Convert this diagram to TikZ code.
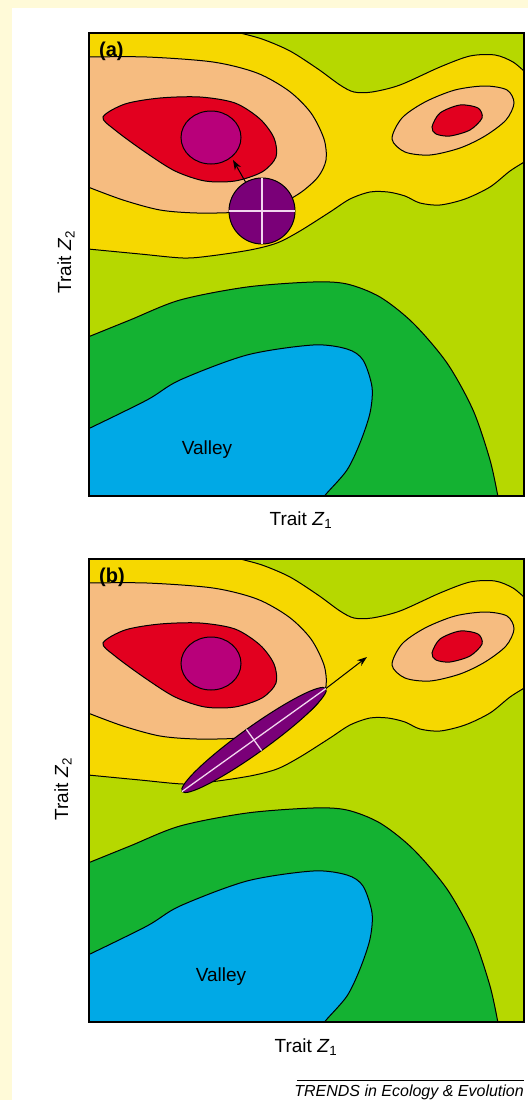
\documentclass[tikz,border=0pt]{standalone}
\usepackage{fontspec}
\setmainfont{Liberation Sans}
\usetikzlibrary{arrows.meta,shapes.geometric}
\definecolor{cream}{HTML}{FFFAD8}
\definecolor{lgreen}{HTML}{B6D800}
\definecolor{yel}{HTML}{F6D800}
\definecolor{peach}{HTML}{F6BC80}
\definecolor{redpk}{HTML}{E2001F}
\definecolor{mag}{HTML}{B8007A}
\definecolor{purp}{HTML}{7A0078}
\definecolor{dgreen}{HTML}{14B232}
\definecolor{bluev}{HTML}{00A9E6}
\definecolor{crossc}{HTML}{F2D6EE}
\tikzset{
  contour/.style={draw=black, line width=1pt},
  frame/.style={draw=black, line width=1.6pt},
  marker/.style={draw=black, line width=1pt, fill=purp, inner sep=0pt, outer sep=0pt},
  crossline/.style={draw=crossc, line width=1.3pt},
  arr/.style={draw=black, line width=1pt, -{Stealth[length=10pt,width=7pt]}},
  lbl/.style={font=\fontsize{19}{22}\selectfont, inner sep=0pt},
  panlbl/.style={font=\fontsize{20}{24}\selectfont\bfseries, inner sep=0pt, anchor=west},
}
\newcommand\drawLandscape{%
  \begin{scope}
    \clip (89,33) rectangle (524,496);
    \fill[lgreen] (84,28) rectangle (530,500);
    % yellow band
    \filldraw[contour, fill=yel] (84,28) -- (234,28) -- plot[smooth] coordinates {(236,32) (262,39) (290,51) (318,69) (340,85) (354,92) (372,92) (400,85) (440,67) (470,56) (495,55) (513,62) (526,73)} -- (530,73) -- (530,161)
      -- plot[smooth] coordinates {(526,161) (510,171) (490,187) (465,199) (440,205) (420,203) (405,196) (388,192) (370,192) (350,199) (330,212) (300,231) (277,243) (250,250) (210,256) (183,258) (140,254) (88,249)} -- (84,249) -- cycle;
    % big peach
    \filldraw[contour, fill=peach] (84,57) -- plot[smooth] coordinates {(88,57) (147,57) (213,62) (257,73) (289,91) (311,113) (324,139) (326,160) (318,177) (300,193) (275,206) (240,212) (197,213) (160,210) (123,200) (88,187)} -- (84,187) -- cycle;
    % big red
    \filldraw[contour, fill=redpk] plot[smooth cycle] coordinates {(103,117) (125,104) (160,98) (200,97) (235,103) (260,119) (274,138) (276,157) (262,172) (235,181) (205,181) (175,171) (145,152) (115,130)};
    % magenta peak
    \filldraw[contour, fill=mag] (211,137.5) ellipse [x radius=30, y radius=26.5];
    % right peach
    \filldraw[contour, fill=peach] plot[smooth cycle] coordinates {(392,139) (402,118) (425,102) (455,90) (485,86) (507,90) (514,103) (506,120) (485,136) (460,148) (430,155) (405,152)};
    % right red
    \filldraw[contour, fill=redpk] plot[smooth cycle] coordinates {(432,127) (440,113) (460,105) (478,108) (482,118) (470,130) (450,136) (436,134)};
    % dark green
    \filldraw[contour, fill=dgreen] (84,337) -- plot[smooth] coordinates {(88,337) (130,320) (180,300) (247,287) (313,282) (347,284) (380,297) (413,323) (447,363) (473,410) (490,460) (498,497)} -- (498,502) -- (84,502) -- cycle;
    % blue valley
    \filldraw[contour, fill=bluev] (84,429) -- plot[smooth] coordinates {(88,429) (147,400) (180,380) (247,355) (313,345) (347,349) (363,360) (372,387) (370,413) (360,443) (347,470) (327,493) (324,497)} -- (324,502) -- (84,502) -- cycle;
  \end{scope}
  \draw[frame] (89,33) rectangle (524,496);
}
\begin{document}
\begin{tikzpicture}[x=1pt, y=-1pt]
  \useasboundingbox (0,0) rectangle (528,1100);
  \fill[cream] (0,0) rectangle (528,1100);
  \fill[white] (12,8) rectangle (528,1100);

  % ---------- panel (a) ----------
  \drawLandscape
  \node[panlbl] (la) at (99,51) {(a)};
  \node[marker, circle, minimum size=66pt] (pa) at (262,211) {};
  \draw[crossline] (pa.west) -- (pa.east);
  \draw[crossline] (pa.north) -- (pa.south);
  \coordinate (tipa) at (233,160);
  \draw[arr] (pa) -- (tipa);
  \node[lbl] (va) at (207,450) {Valley};
  \node[lbl] (xa) at (301,520) {Trait \textit{Z}\textsubscript{1}};
  \node[lbl, rotate=90] (ya) at (66,262) {Trait \textit{Z}\textsubscript{2}};

  % ---------- panel (b) ----------
  \begin{scope}[shift={(0,526)}]
    \drawLandscape
  \end{scope}
  \node[panlbl] (lb) at (99,577) {(b)};
  \node[marker, ellipse, minimum width=177pt, minimum height=26pt, rotate=35.6] (pb) at (254,740) {};
  \draw[crossline] (pb.west) -- (pb.east);
  \draw[crossline] (pb.north) -- (pb.south);
  \coordinate (tipb) at (367,657);
  \draw[arr] (pb.east) -- (tipb);
  \node[lbl] (vb) at (221,977) {Valley};
  \node[lbl] (xb) at (306,1047) {Trait \textit{Z}\textsubscript{1}};
  \node[lbl, rotate=90] (yb) at (63,789) {Trait \textit{Z}\textsubscript{2}};

  % ---------- credit ----------
  \coordinate (cl) at (297,1080);
  \coordinate (cr) at (524,1080);
  \draw[line width=0.8pt] (cl) -- (cr);
  \node[font=\fontsize{16}{18}\selectfont\itshape, inner sep=0pt, anchor=east] (cred) at (524,1092) {TRENDS in Ecology \& Evolution};
\end{tikzpicture}
\end{document}
